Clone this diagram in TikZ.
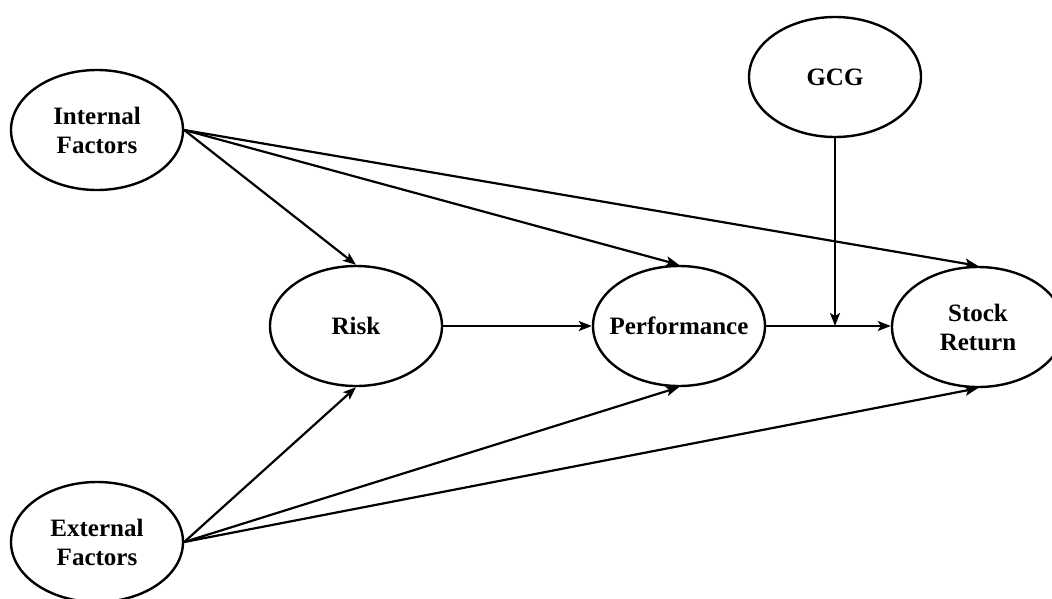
\documentclass[tikz,border=0pt]{standalone}
\usepackage{fontspec}
\setmainfont{Liberation Serif}
\usetikzlibrary{arrows.meta,positioning,shapes.geometric}

\tikzset{
  construct/.style={ellipse,draw,line width=2.4pt,minimum width=172pt,
    minimum height=120pt,align=center,inner sep=0pt,
    font=\fontsize{25}{29}\selectfont\bfseries},
  path/.style={line width=2.2pt,-{Stealth[length=13pt,width=10pt,inset=3pt]}}
}

\begin{document}
\begin{tikzpicture}[x=1pt,y=1pt]
      \useasboundingbox (0,0) rectangle (1052,-598);
      \node[construct] (internal) at (97,-130) {Internal\\Factors};
      \node[construct] (external) at (97,-542) {External\\Factors};
      \node[construct] (risk) at (356,-326) {Risk};
      \node[construct,inner xsep=-9pt] (perf) at (679,-326) {Performance};
      \node[construct] (stock) at (978,-327) {Stock\\Return};
      \node[construct] (gcg) at (835,-77) {GCG};
      \coordinate (mod) at (gcg.south |- perf.east);
      % paths from the two factors
      \foreach \t in {risk,perf,stock}{
        \draw[path] (internal.east) -- (\t.north);
        \draw[path] (external.east) -- (\t.south);
      }
      \draw[path] (risk) -- (perf);
      \draw[path] (perf.east) -- (stock.west |- perf.east);
      \draw[path] (gcg) -- (mod);
    \end{tikzpicture}
\end{document}
